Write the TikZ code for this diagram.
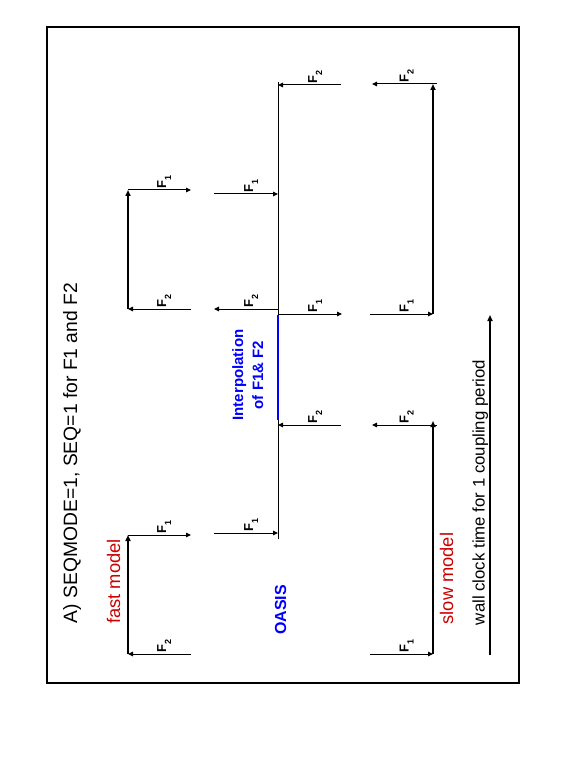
\documentclass[tikz,border=0pt]{standalone}
\usepackage{fontspec}
\setmainfont{Liberation Sans}
\usetikzlibrary{arrows.meta}
\definecolor{dred}{RGB}{204,0,0}
\definecolor{oblue}{RGB}{0,0,255}
\newcommand{\Fsub}[1]{F\raisebox{-5pt}{\fontsize{9}{9}\selectfont\bfseries #1}}
\begin{document}
\begin{tikzpicture}[x=1pt,y=-1pt,
  flow/.style={line width=1pt,-{Triangle[length=5pt,width=4.5pt]}},
  thickarrow/.style={line width=2pt,-{Triangle[length=6pt,width=5pt]}},
  thinline/.style={line width=1pt},
  blueline/.style={line width=1.8pt,draw=oblue},
  flab/.style={rotate=90,anchor=base west,inner sep=0pt,font=\fontsize{13}{13}\selectfont\bfseries},
  rtext/.style={rotate=90,anchor=base,inner sep=0pt}
]
\useasboundingbox (0,0) rectangle (585,759);
\fill[white] (0,0) rectangle (585,759);
% frame
\draw[line width=2pt] (47,27) rectangle (519,683);

% ---------- coordinates ----------
% fast model
\coordinate (fa0) at (191,654);
\coordinate (fa1) at (128,654);
\coordinate (fa2) at (128,535);
\coordinate (fa3) at (191,535);
\coordinate (fb0) at (191,309);
\coordinate (fb1) at (128,309);
\coordinate (fb2) at (128,190);
\coordinate (fb3) at (191,190);
% OASIS
\coordinate (oL1s) at (214,533);
\coordinate (oL1e) at (278,533);
\coordinate (ov0) at (278,539);
\coordinate (ov1) at (278,420);
\coordinate (ov2) at (278,315);
\coordinate (ov3) at (278,82);
\coordinate (oR2s) at (341,425);
\coordinate (oR2e) at (278,425);
\coordinate (oL2s) at (278,309);
\coordinate (oL2e) at (214,309);
\coordinate (oR1s) at (278,314);
\coordinate (oR1e) at (342,314);
\coordinate (oL3s) at (214,194);
\coordinate (oL3e) at (278,194);
\coordinate (oR3s) at (341,85);
\coordinate (oR3e) at (278,85);
% slow model
\coordinate (sa0) at (370,654);
\coordinate (sa1) at (433,654);
\coordinate (sa2) at (433,421);
\coordinate (sa3s) at (437,425);
\coordinate (sa3e) at (372,425);
\coordinate (sb0) at (370,314);
\coordinate (sb1) at (433,314);
\coordinate (sb2) at (433,84);
\coordinate (sb3s) at (437,84);
\coordinate (sb3e) at (372,84);
% wall clock
\coordinate (w0) at (490,655);
\coordinate (w1) at (490,315);

% ---------- fast model ----------
\draw[flow] (fa0) -- (fa1);
\draw[thickarrow] (fa1) -- (fa2);
\draw[flow] (fa2) -- (fa3);
\draw[flow] (fb0) -- (fb1);
\draw[thickarrow] (fb1) -- (fb2);
\draw[flow] (fb2) -- (fb3);
\node[flab] (lfa0) at (166,652.5) {\Fsub{2}};
\node[flab] (lfa2) at (166,533.5) {\Fsub{1}};
\node[flab] (lfb0) at (166,307.5) {\Fsub{2}};
\node[flab] (lfb2) at (166,188.5) {\Fsub{1}};

% ---------- OASIS ----------
\draw[thinline] (ov0) -- (ov1);
\draw[blueline] (ov1) -- (ov2);
\draw[thinline] (ov2) -- (ov3);
\draw[flow] (oL1s) -- (oL1e);
\draw[flow] (oR2s) -- (oR2e);
\draw[flow] (oL2s) -- (oL2e);
\draw[flow] (oR1s) -- (oR1e);
\draw[flow] (oL3s) -- (oL3e);
\draw[flow] (oR3s) -- (oR3e);
\node[flab] (loL1) at (253,531.5) {\Fsub{1}};
\node[flab] (loR2) at (317,423.5) {\Fsub{2}};
\node[flab] (loL2) at (253,307.5) {\Fsub{2}};
\node[flab] (loR1) at (317,312.5) {\Fsub{1}};
\node[flab] (loL3) at (253,192.5) {\Fsub{1}};
\node[flab] (loR3) at (317,83.5) {\Fsub{2}};

% ---------- slow model ----------
\draw[flow] (sa0) -- (sa1);
\draw[thickarrow] (sa1) -- (sa2);
\draw[flow] (sa3s) -- (sa3e);
\draw[flow] (sb0) -- (sb1);
\draw[thickarrow] (sb1) -- (sb2);
\draw[flow] (sb3s) -- (sb3e);
\node[flab] (lsa0) at (408.5,652.5) {\Fsub{1}};
\node[flab] (lsa3) at (408.5,423.5) {\Fsub{2}};
\node[flab] (lsb0) at (408.5,312.5) {\Fsub{1}};
\node[flab] (lsb3) at (408.5,82.5) {\Fsub{2}};

% ---------- wall clock ----------
\draw[thickarrow] (w0) -- (w1);

% ---------- texts ----------
\node[rtext,font=\fontsize{19.3}{19.3}\selectfont] (title) at (77,453) {A) SEQMODE=1, SEQ=1 for F1 and F2};
\node[rtext,text=dred,font=\fontsize{18.3}{18.3}\selectfont] (fast) at (120,581.5) {fast model};
\node[rtext,text=dred,font=\fontsize{18.3}{18.3}\selectfont] (slow) at (453,578.5) {slow model};
\node[rtext,text=oblue,font=\fontsize{16}{16}\selectfont\bfseries] (oasis) at (286,610) {OASIS};
\node[rtext,text=oblue,font=\fontsize{15}{15}\selectfont\bfseries] (interp1) at (243,375) {Interpolation};
\node[rtext,text=oblue,font=\fontsize{15}{15}\selectfont\bfseries] (interp2) at (263,375) {of F1\& F2};
\node[rtext,font=\fontsize{16.8}{16.8}\selectfont] (wall) at (484.5,492.5) {wall clock time for 1 coupling period};
\end{tikzpicture}
\end{document}
